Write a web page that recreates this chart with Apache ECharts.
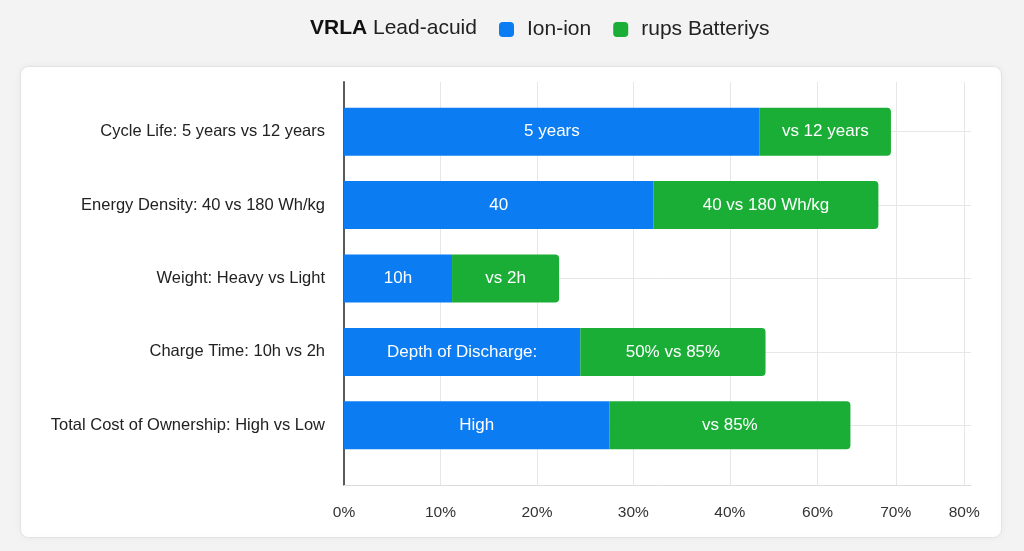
<!DOCTYPE html>
<html>
<head>
<meta charset="utf-8">
<title>VRLA vs Ion-ion</title>
<script src="https://cdn.jsdelivr.net/npm/echarts@6/dist/echarts.min.js"></script>
<style>
  html, body { margin: 0; padding: 0; background: #f3f3f3; }
  #chart { width: 1024px; height: 551px; }
</style>
</head>
<body>
<div id="chart"></div>
<script>
const categories = [
  'Cycle Life: 5 years vs 12 years',
  'Energy Density: 40 vs 180 Wh/kg',
  'Weight: Heavy vs Light',
  'Charge Time: 10h vs 2h',
  'Total Cost of Ownership: High vs Low'
]
const blueValues = [43.1, 32.1, 11.2, 24.5, 27.5]
const greenValues = [13.6, 23.3, 11.1, 19.2, 25.0]
const blueLabels = ['5 years', '40', '10h', 'Depth of Discharge:', 'High']
const greenLabels = ['vs 12 years', '40 vs 180 Wh/kg', 'vs 2h', '50% vs 85%', 'vs 85%']
// the picture's tick marks are not evenly spaced, so keep where each one sits
const tickPositions = [0, 10, 20, 30, 40, 49.1, 57.2, 64.3]
const tickLabels = ['0%', '10%', '20%', '30%', '40%', '60%', '70%', '80%']

const font = '"Liberation Sans", Arial, sans-serif'
const blue = '#0b7cf2'
const green = '#1bae37'
const gridColor = '#e7e7e7'

const chart = echarts.init(document.getElementById('chart'))

const option = {
  animation: false,
  textStyle: { fontFamily: font },
  graphic: [
    {
      type: 'rect',
      z: -100,
      left: 20,
      top: 66,
      shape: { width: 981, height: 471, r: 8 },
      style: {
        fill: '#ffffff',
        stroke: '#e2e2e2',
        lineWidth: 1,
        shadowBlur: 8,
        shadowColor: 'rgba(0,0,0,0.05)'
      }
    },
    {
      type: 'text',
      left: 310,
      top: 18,
      style: {
        text: '{b|VRLA} Lead-acuid',
        font: '21px ' + font,
        fill: '#222',
        rich: {
          b: { fontWeight: 'bold', fontSize: 21, fontFamily: font, fill: '#111' }
        }
      }
    }
  ],
  legend: {
    data: ['Ion-ion', 'rups Batteriys'],
    left: 494,
    top: 14,
    icon: 'roundRect',
    itemWidth: 15,
    itemHeight: 15,
    itemGap: 22,
    textStyle: { fontSize: 21, color: '#222', fontFamily: font, padding: [0, 0, 0, 8] }
  },
  grid: [
    { left: 344, right: 53, top: 82, bottom: 66 },
    { left: 344, right: 53, top: 95, bottom: 89 }
  ],
  xAxis: [
    {
      gridIndex: 0,
      type: 'value',
      min: 0,
      max: 65,
      axisLine: { show: true, lineStyle: { color: '#dcdcdc', width: 1 } },
      axisTick: { show: false, customValues: tickPositions },
      axisLabel: {
        customValues: tickPositions,
        formatter: v => tickLabels[tickPositions.indexOf(v)],
        margin: 20,
        fontSize: 15.5,
        color: '#333'
      },
      splitLine: { show: true, lineStyle: { color: gridColor } }
    },
    { gridIndex: 1, type: 'value', min: 0, max: 65, show: false }
  ],
  yAxis: [
    {
      gridIndex: 0,
      type: 'value',
      min: 0,
      max: 1,
      axisLine: { show: true, lineStyle: { color: '#5a5a5a', width: 2 } },
      axisTick: { show: false },
      axisLabel: { show: false },
      splitLine: { show: false }
    },
    {
      gridIndex: 1,
      type: 'category',
      inverse: true,
      data: categories,
      axisLine: { show: false },
      axisTick: { show: false },
      axisLabel: { fontSize: 16.5, color: '#222', margin: 19 },
      splitLine: { show: true, alignWithLabel: true, lineStyle: { color: gridColor } }
    }
  ],
  series: [
    {
      name: 'Ion-ion',
      type: 'bar',
      xAxisIndex: 1,
      yAxisIndex: 1,
      stack: 'total',
      barWidth: 48,
      data: blueValues,
      itemStyle: { color: blue },
      label: {
        show: true,
        position: 'inside',
        color: '#fff',
        fontSize: 17,
        formatter: p => blueLabels[p.dataIndex]
      }
    },
    {
      name: 'rups Batteriys',
      type: 'bar',
      xAxisIndex: 1,
      yAxisIndex: 1,
      stack: 'total',
      barWidth: 48,
      data: greenValues,
      itemStyle: { color: green, borderRadius: [0, 4, 4, 0] },
      label: {
        show: true,
        position: 'inside',
        color: '#fff',
        fontSize: 17,
        formatter: p => greenLabels[p.dataIndex]
      }
    }
  ]
}

chart.setOption(option)
window.addEventListener('resize', () => chart.resize())
</script>
</body>
</html>
